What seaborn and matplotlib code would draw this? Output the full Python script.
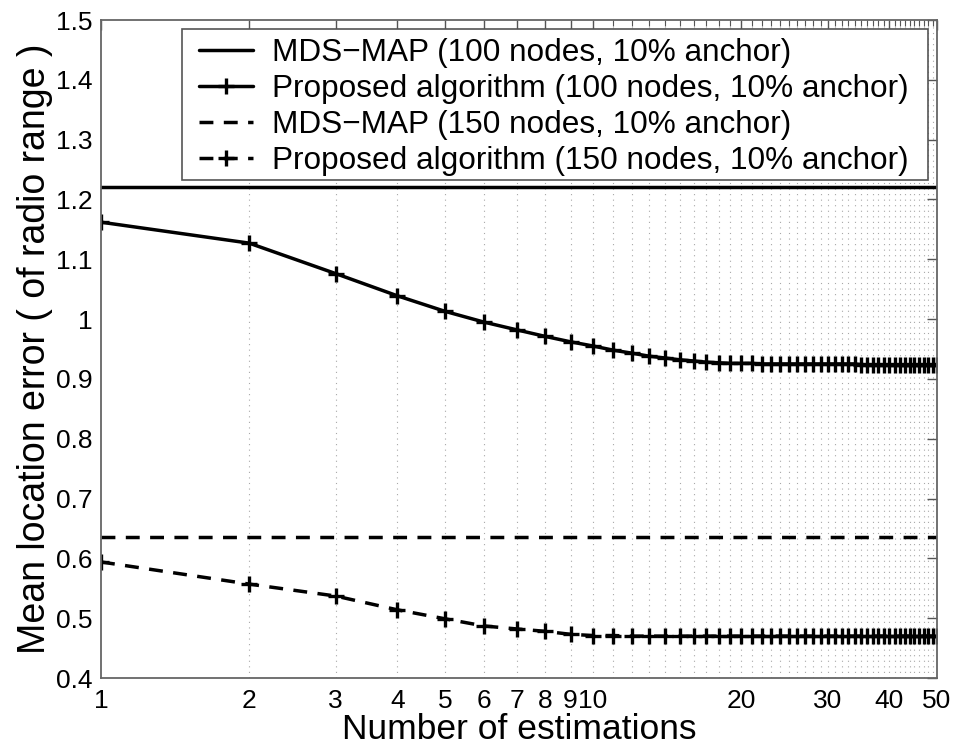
import numpy as np
import pandas as pd
import matplotlib
matplotlib.use("Agg")
import matplotlib.pyplot as plt
from matplotlib.patches import Rectangle
from matplotlib.ticker import FixedLocator, FixedFormatter, NullFormatter
import seaborn as sns

estimations = list(range(1, 51))
mds_100 = 1.22
mds_150 = 0.635
proposed_100 = [1.162, 1.127, 1.076, 1.039, 1.013, 0.995, 0.982, 0.971, 0.962, 0.955,
                0.948, 0.943, 0.938, 0.935, 0.932, 0.930, 0.928, 0.927, 0.926, 0.926,
                0.926, 0.925, 0.925, 0.925, 0.925, 0.925, 0.925, 0.925, 0.925, 0.925,
                0.925, 0.925, 0.925, 0.925, 0.924, 0.924, 0.924, 0.924, 0.924, 0.924,
                0.924, 0.924, 0.924, 0.924, 0.924, 0.924, 0.924, 0.924, 0.924, 0.924]
proposed_150 = [0.594, 0.557, 0.537, 0.514, 0.499, 0.487, 0.482, 0.478, 0.473, 0.471,
                0.471, 0.470, 0.470, 0.470, 0.470, 0.470, 0.470, 0.470, 0.470, 0.470,
                0.470, 0.470, 0.470, 0.470, 0.470, 0.470, 0.470, 0.470, 0.470, 0.470,
                0.470, 0.470, 0.470, 0.470, 0.470, 0.470, 0.470, 0.470, 0.470, 0.470,
                0.470, 0.470, 0.470, 0.470, 0.470, 0.470, 0.470, 0.470, 0.470, 0.470]
labels = ["MDS\u2212MAP (100 nodes, 10% anchor)",
          "Proposed algorithm (100 nodes, 10% anchor)",
          "MDS\u2212MAP (150 nodes, 10% anchor)",
          "Proposed algorithm (150 nodes, 10% anchor)"]
xtick_vals = [1, 2, 3, 4, 5, 6, 7, 8, 9, 10, 20, 30, 40, 50]
xtick_labels = ["1", "2", "3", "4", "5", "6", "7", "8", "9", "10", "20", "30", "40", "50"]
ytick_vals = [0.4, 0.5, 0.6, 0.7, 0.8, 0.9, 1.0, 1.1, 1.2, 1.3, 1.4, 1.5]
ytick_labels = ["0.4", "0.5", "0.6", "0.7", "0.8", "0.9", "1", "1.1", "1.2", "1.3", "1.4", "1.5"]

sns.set_theme(style="white")
plt.rcParams["font.family"] = ["Liberation Sans", "DejaVu Sans"]
plt.rcParams["text.color"] = "black"
plt.rcParams["axes.labelcolor"] = "black"
plt.rcParams["xtick.labelcolor"] = "black"
plt.rcParams["ytick.labelcolor"] = "black"

df100 = pd.DataFrame({"x": estimations, "y": proposed_100})
df150 = pd.DataFrame({"x": estimations, "y": proposed_150})

W, H = 956, 748
fig = plt.figure(figsize=(W / 100, H / 100), dpi=100)
ax = fig.add_axes([101 / W, 1 - 678 / H, 836 / W, 658 / H])
ax.set_xscale("log")

# vertical dotted grid at each integer
for xv in range(2, 50):
    ax.axvline(xv, color="#a8a8a8", linestyle=(0, (1, 4)), linewidth=0.8, zorder=0)

lw = 2.5
mk = dict(marker="+", markersize=12, markeredgewidth=2.4,
          markeredgecolor="black", markerfacecolor="black")
ax.axhline(mds_100, color="black", linewidth=lw, label=labels[0])
sns.lineplot(data=df100, x="x", y="y", ax=ax, color="black", linewidth=lw,
             label=labels[1], **mk)
ax.axhline(mds_150, color="black", linewidth=lw, linestyle=(0, (4, 3)), label=labels[2])
sns.lineplot(data=df150, x="x", y="y", ax=ax, color="black", linewidth=lw,
             label=labels[3], **mk)
ax.lines[-1].set_linestyle((0, (4, 3)))

ax.set_xlim(1, 50)
ax.set_ylim(0.4, 1.5)
ax.xaxis.set_major_locator(FixedLocator(xtick_vals))
ax.xaxis.set_major_formatter(FixedFormatter(xtick_labels))
ax.xaxis.set_minor_locator(FixedLocator([v for v in range(11, 50) if v % 10 != 0]))
ax.xaxis.set_minor_formatter(NullFormatter())
ax.yaxis.set_major_locator(FixedLocator(ytick_vals))
ax.yaxis.set_major_formatter(FixedFormatter(ytick_labels))

ax.tick_params(axis="both", which="major", direction="in", length=7, width=1,
               color="#555555", labelcolor="black", labelsize=19, top=True, right=True)
ax.tick_params(axis="x", which="major", pad=8)
ax.tick_params(axis="y", which="major", pad=6)
ax.tick_params(axis="x", which="minor", direction="in", length=4, width=0.8,
               color="#555555", top=True)
for sp in ax.spines.values():
    sp.set_color("#666666")
    sp.set_linewidth(1.3)

ax.set_xlabel("Number of estimations", fontsize=25.5, labelpad=0, color="black")
ax.set_ylabel("Mean location error ( of radio range )", fontsize=27, labelpad=2,
              color="black")

# legend frame drawn as a box, legend content placed inside it
frame = Rectangle((182 / W, 1 - 180 / H), 746 / W, 151 / H, transform=fig.transFigure,
                  facecolor="white", edgecolor="#555555", linewidth=1.2, zorder=4)
ax.add_patch(frame)
leg = ax.legend(loc="upper left", fontsize=22.7, frameon=False,
                handlelength=1.7, handletextpad=0.6,
                labelspacing=0.19, borderpad=0, borderaxespad=0,
                bbox_to_anchor=(199 / W, 1 - 38 / H), bbox_transform=fig.transFigure)
leg.set_zorder(5)
for t in leg.get_texts():
    t.set_color("black")

fig.savefig("out.png", dpi=100)
